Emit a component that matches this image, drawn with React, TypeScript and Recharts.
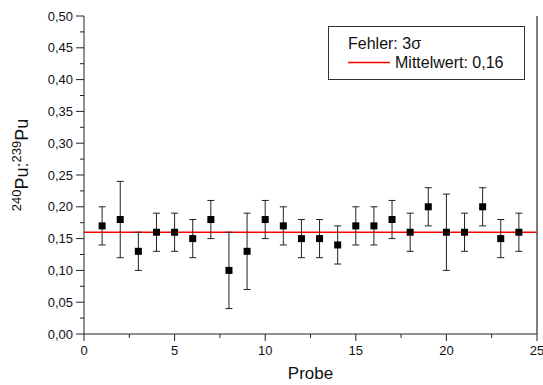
import {
  ComposedChart,
  Scatter,
  ErrorBar,
  XAxis,
  YAxis,
  ReferenceLine,
  Legend,
  Label,
} from "recharts";

const samples = [1, 2, 3, 4, 5, 6, 7, 8, 9, 10, 11, 12, 13, 14, 15, 16, 17, 18, 19, 20, 21, 22, 23, 24];
const ratios = [0.17, 0.18, 0.13, 0.16, 0.16, 0.15, 0.18, 0.1, 0.13, 0.18, 0.17, 0.15, 0.15, 0.14, 0.17, 0.17, 0.18, 0.16, 0.2, 0.16, 0.16, 0.2, 0.15, 0.16];
const errors = [0.03, 0.06, 0.03, 0.03, 0.03, 0.03, 0.03, 0.06, 0.06, 0.03, 0.03, 0.03, 0.03, 0.03, 0.03, 0.03, 0.03, 0.03, 0.03, 0.06, 0.03, 0.03, 0.03, 0.03];
const meanValue = 0.16;

const xTicks = [0, 2.5, 5, 7.5, 10, 12.5, 15, 17.5, 20, 22.5, 25];
const yTicks = [0, 0.025, 0.05, 0.075, 0.1, 0.125, 0.15, 0.175, 0.2, 0.225, 0.25, 0.275, 0.3, 0.325, 0.35, 0.375, 0.4, 0.425, 0.45, 0.475, 0.5];

const data = samples.map((s, i) => ({ x: s, y: ratios[i], err: errors[i] }));

const FONT = "'Liberation Sans', Arial, sans-serif";
const AXIS = "#222";

const isMajorX = (v: number) => v % 5 === 0;
const isMajorY = (v: number) => Math.round(v * 1000) % 50 === 0;
const fmtY = (v: number) => v.toFixed(2).replace(".", ",");

function BottomTick(props: any) {
  const { x, y, payload } = props;
  const major = isMajorX(payload.value);
  return (
    <g>
      <line x1={x} x2={x} y1={y} y2={y + (major ? 7 : 4)} stroke={AXIS} />
      {major && (
        <text x={x} y={y + 21} textAnchor="middle" fontSize={13} fontFamily={FONT} fill="#111">
          {payload.value}
        </text>
      )}
    </g>
  );
}

function TopTick(props: any) {
  const { x, y } = props;
  return <line x1={x} x2={x} y1={y} y2={y + 3} stroke={AXIS} />;
}

function LeftTick(props: any) {
  const { x, y, payload } = props;
  const major = isMajorY(payload.value);
  return (
    <g>
      <line x1={x} x2={x - (major ? 8 : 4)} y1={y} y2={y} stroke={AXIS} />
      {major && (
        <text x={x - 11} y={y + 4.5} textAnchor="end" fontSize={13} fontFamily={FONT} fill="#111">
          {fmtY(payload.value)}
        </text>
      )}
    </g>
  );
}

function RightTick(props: any) {
  const { x, y } = props;
  return <line x1={x} x2={x - 3} y1={y} y2={y} stroke={AXIS} />;
}

function Square(props: any) {
  const { cx, cy } = props;
  return <rect x={cx - 3.5} y={cy - 3.5} width={7} height={7} fill="#000" />;
}

function YTitle() {
  return (
    <text
      transform="translate(28,165) rotate(-90)"
      textAnchor="middle"
      fontFamily={FONT}
      fontSize={18}
      fill="#111"
    >
      <tspan fontSize={13} dy={-7}>240</tspan>
      <tspan dy={7}>Pu:</tspan>
      <tspan fontSize={13} dy={-7}>239</tspan>
      <tspan dy={7}>Pu</tspan>
    </text>
  );
}

function LegendBox() {
  return (
    <svg width={197} height={54} style={{ display: "block" }}>
      <rect x={0.5} y={0.5} width={196} height={53} fill="#fff" stroke="#333" />
      <text x={20} y={23} fontFamily={FONT} fontSize={16} fill="#111">
        Fehler: 3σ
      </text>
      <line x1={20} x2={62} y1={36.5} y2={36.5} stroke="#ff0000" strokeWidth={1.5} />
      <text x={67} y={42} fontFamily={FONT} fontSize={16} fill="#111">
        Mittelwert: 0,16
      </text>
    </svg>
  );
}

export default function App() {
  return (
    <div style={{ position: "absolute", left: 0, top: 0, background: "#fff" }}>
      <ComposedChart width={543} height={385} data={data} margin={{ top: 16, right: 0, bottom: 0, left: 0 }}>
        <XAxis
          xAxisId="bottom"
          dataKey="x"
          type="number"
          domain={[0, 25]}
          ticks={xTicks}
          interval={0}
          height={51}
          tickSize={0}
          tickMargin={0}
          tick={<BottomTick />}
          axisLine={{ stroke: AXIS }}
        >
          <Label
            value="Probe"
            position="insideBottom"
            offset={6}
            fontSize={17}
            fontFamily={FONT}
            fill="#111"
          />
        </XAxis>
        <XAxis
          xAxisId="top"
          orientation="top"
          type="number"
          domain={[0, 25]}
          ticks={xTicks}
          interval={0}
          height={0}
          tickSize={0}
          tickMargin={0}
          tick={<TopTick />}
          axisLine={{ stroke: AXIS }}
        />
        <YAxis
          yAxisId="left"
          type="number"
          domain={[0, 0.5]}
          ticks={yTicks}
          interval={0}
          width={84}
          tickSize={0}
          tickMargin={0}
          tick={<LeftTick />}
          axisLine={{ stroke: AXIS }}
        >
          <Label content={<YTitle />} />
        </YAxis>
        <YAxis
          yAxisId="right"
          orientation="right"
          type="number"
          domain={[0, 0.5]}
          ticks={yTicks}
          interval={0}
          width={6}
          tickSize={0}
          tickMargin={0}
          tick={<RightTick />}
          axisLine={{ stroke: "#555", strokeWidth: 1.5 }}
        />
        <ReferenceLine
          xAxisId="bottom"
          yAxisId="left"
          y={meanValue}
          stroke="#ff0000"
          strokeWidth={1.5}
        />
        <Scatter
          xAxisId="bottom"
          yAxisId="left"
          dataKey="y"
          shape={<Square />}
          isAnimationActive={false}
        >
          <ErrorBar dataKey="err" direction="y" width={3.5} stroke="#222" strokeWidth={1} isAnimationActive={false} />
        </Scatter>
        <Legend
          layout="vertical"
          align="center"
          verticalAlign="middle"
          content={<LegendBox />}
          wrapperStyle={{ left: 328, top: 26, width: 197 }}
        />
      </ComposedChart>
    </div>
  );
}
